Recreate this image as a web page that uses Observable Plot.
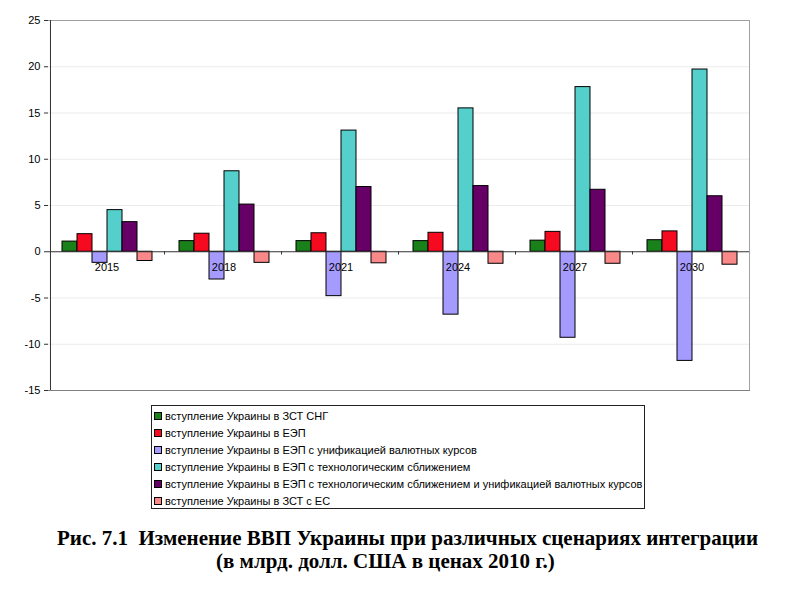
<!DOCTYPE html>
<html>
<head>
<meta charset="utf-8">
<script src="https://cdn.jsdelivr.net/npm/d3@7"></script>
<script src="https://cdn.jsdelivr.net/npm/@observablehq/plot@0.6"></script>
<style>
  html, body { margin: 0; padding: 0; background: #fff; }
  body { width: 800px; height: 597px; position: relative; overflow: hidden; font-family: "Liberation Sans", Arial, sans-serif; }
  #chart { position: absolute; left: 0; top: 0; }
  #legend { position: absolute; left: 151px; top: 405px; width: 491px; height: 100px; border: 1px solid #222; padding: 2px 0 0 1px; box-sizing: content-box; }
  .row { height: 16.9px; display: flex; align-items: center; font-size: 11px; color: #000; white-space: nowrap; }
  .sw { width: 6px; height: 6px; border: 1px solid #000; margin: 0 3px 0 1px; flex: none; }
  .cap { position: absolute; font-family: "Liberation Serif", "Times New Roman", serif; font-weight: bold; font-size: 21px; line-height: 21px; color: #000; white-space: pre; }
</style>
</head>
<body>
<div id="chart"></div>
<div id="legend"></div>
<div class="cap" id="cap1" style="left:57px; top:528px;"></div>
<div class="cap" id="cap2" style="left:216px; top:551px;"></div>
<script>
// ---- data ----
const years = ["2015", "2018", "2021", "2024", "2027", "2030"];
const seriesNames = [
  "вступление Украины в ЗСТ СНГ",
  "вступление Украины в ЕЭП",
  "вступление Украины в ЕЭП с унификацией валютных курсов",
  "вступление Украины в ЕЭП с технологическим сближением",
  "вступление Украины в ЕЭП с технологическим сближением и унификацией валютных курсов",
  "вступление Украины в ЗСТ с ЕС"
];
const seriesColors = ["#1a801a", "#f50a20", "#a59bff", "#55cfcb", "#660066", "#f98888"];
const zstSng          = [1.1, 1.15, 1.15, 1.15, 1.2, 1.25];
const eep             = [1.9, 1.95, 2.0, 2.05, 2.15, 2.2];
const eepCurrency     = [-1.2, -3.0, -4.8, -6.8, -9.3, -11.8];
const eepTech         = [4.5, 8.7, 13.1, 15.5, 17.8, 19.7];
const eepTechCurrency = [3.2, 5.1, 7.0, 7.1, 6.7, 6.0];
const zstEu           = [-1.0, -1.2, -1.25, -1.3, -1.3, -1.4];
const yTicks = [-15, -10, -5, 0, 5, 10, 15, 20, 25];
const captionLine1 = "Рис. 7.1  Изменение ВВП Украины при различных сценариях интеграции";
const captionLine2 = "(в млрд. долл. США в ценах 2010 г.)";

const seriesValues = [zstSng, eep, eepCurrency, eepTech, eepTechCurrency, zstEu];
const table = [];
years.forEach((yr, i) => seriesNames.forEach((s, j) => table.push({year: yr, series: s, value: seriesValues[j][i]})));

// ---- layout ----
const W = 800, H = 400, ML = 47, MR = 50, MT = 20, MB = 10;
const outerPad = 0.75;
const facetW = (W - ML - MR) / years.length;
const step = facetW / (seriesNames.length + 2 * outerPad);
const edge = step * (0.5 + outerPad);

const chart = Plot.plot({
  width: W, height: H,
  marginLeft: ML, marginRight: MR, marginTop: MT, marginBottom: MB,
  style: {fontFamily: "'Liberation Sans', Arial, sans-serif", fontSize: "11px", color: "#000", background: "transparent"},
  fx: {domain: years, padding: 0, axis: null},
  x: {domain: seriesNames, paddingInner: 0, paddingOuter: outerPad, axis: null},
  y: {domain: [-15, 25], axis: null, label: null},
  color: {domain: seriesNames, range: seriesColors},
  marks: [
    Plot.gridY(yTicks.filter(d => d !== 0 && d !== 25 && d !== -15), {stroke: "#ebebeb", strokeOpacity: 1}),
    Plot.ruleY([25], {stroke: "#a0a0a0"}),
    Plot.ruleY([-15], {stroke: "#808080"}),
    Plot.barY(table, {fx: "year", x: "series", y1: 0, y2: "value", fill: "series", stroke: "#000", strokeWidth: 1}),
    Plot.ruleY([0], {stroke: "#333"}),
    Plot.ruleX(years, {fx: d => d, x: () => seriesNames[seriesNames.length - 1], dx: edge, y1: 0, y2: -0.35, stroke: "#333"}),
    Plot.ruleX([years[years.length - 1]], {fx: d => d, x: () => seriesNames[seriesNames.length - 1], dx: edge, y1: -15, y2: 25, stroke: "#a0a0a0"}),
    Plot.ruleX([years[0]], {fx: d => d, x: () => seriesNames[0], dx: -edge, y1: -15, y2: 25, stroke: "#333"}),
    Plot.text(years, {fx: d => d, y: () => -1.75, text: d => d, fontSize: 11, fill: "#000"}),
    Plot.axisY({ticks: yTicks, tickFormat: d => String(d), tickSize: 4, tickPadding: 4, fontSize: 11, stroke: "#333", label: null})
  ]
});
document.getElementById("chart").appendChild(chart);

// ---- legend ----
const legend = document.getElementById("legend");
seriesNames.forEach((s, i) => {
  const row = document.createElement("div");
  row.className = "row";
  const sw = document.createElement("span");
  sw.className = "sw";
  sw.style.background = seriesColors[i];
  const t = document.createElement("span");
  t.textContent = s;
  row.appendChild(sw); row.appendChild(t);
  legend.appendChild(row);
});
document.getElementById("cap1").textContent = captionLine1;
document.getElementById("cap2").textContent = captionLine2;
</script>
</body>
</html>
